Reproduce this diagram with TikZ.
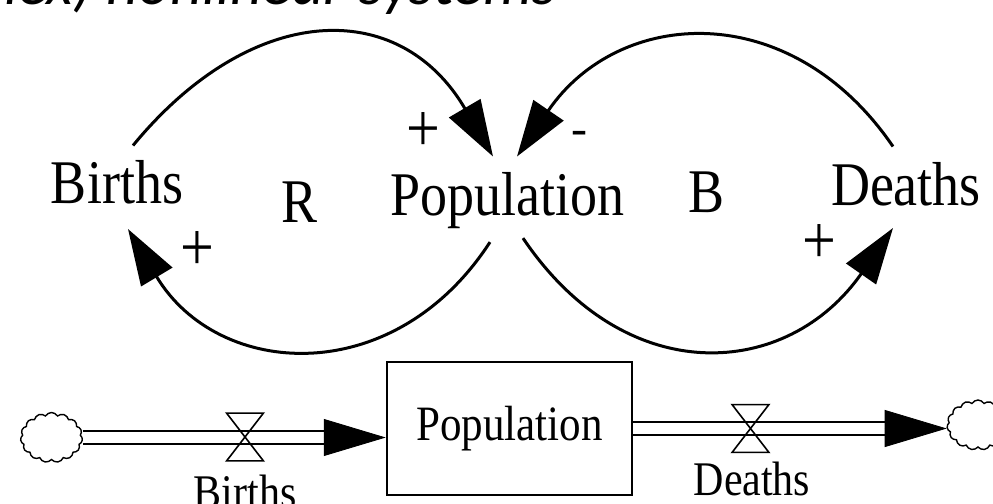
\documentclass[tikz,border=0pt]{standalone}
\usepackage{graphicx}
\usepackage{fontspec}
\setmainfont{Liberation Serif}
\newfontfamily\titlefont{Carlito}
\usetikzlibrary{arrows.meta,shapes.symbols}
\newcommand\vstretch[1]{\scalebox{1}[1.15]{#1}}
\begin{document}
\begin{tikzpicture}[x=0.5pt,y=-0.5pt,
  lbl/.style={anchor=base, inner sep=0pt, font=\fontsize{27pt}{27pt}\selectfont},
  lblsmall/.style={anchor=base, inner sep=0pt, font=\fontsize{21pt}{21pt}\selectfont},
  sgn/.style={anchor=center, inner sep=0pt, font=\fontsize{30pt}{30pt}\selectfont},
  minus/.style={anchor=center, inner sep=0pt, font=\fontsize{24pt}{24pt}\selectfont},
  link/.style={line width=1.5pt, -{Triangle[length=28pt,width=18pt]}},
  pipe/.style={line width=1.25pt, double distance=5.25pt},
  flowhead/.style={line width=0.4pt, -{Triangle[length=31pt,width=18.5pt]}},
  stockbox/.style={draw, line width=1.25pt, minimum width=122.5pt, minimum height=66.5pt, inner sep=0pt, font=\fontsize{21.5pt}{21.5pt}\selectfont},
  cloudy/.style={cloud, draw, line width=0.7pt, cloud puffs=15, cloud puff arc=120, cloud ignores aspect, minimum width=31pt, minimum height=25pt, inner sep=0pt},
  valvebox/.style={inner sep=0pt, minimum width=18pt, minimum height=23.5pt},
  valveline/.style={line width=0.8pt, line join=miter}
]
\useasboundingbox (0,0) rectangle (993,504);

% title (cut off at the top)
\node[anchor=base west, inner sep=0pt, font=\titlefont\itshape\fontsize{31pt}{31pt}\selectfont] (title) at (4,4) {lex) nonlinear systems};

% causal loop diagram
\node[lbl] (births) at (117,203) {\vstretch{Births}};
\node[lbl] (pop) at (507.5,215) {\vstretch{Population}};
\node[lbl] (deaths) at (906,205) {\vstretch{Deaths}};
\node[lbl] (R) at (300,222) {\vstretch{R}};
\node[lbl] (B) at (707,212) {\vstretch{B}};

\node[sgn] (s1) at (423,132) {\vstretch{+}};
\node[sgn] (s2) at (197,251) {\vstretch{+}};
\node[minus] (s3) at (579,138) {-};
\node[sgn] (s4) at (819,244) {\vstretch{+}};

\draw[link] ([xshift=8pt,yshift=7pt]births.north) .. controls (251,2) and (399,-4) .. ([xshift=-7.25pt,yshift=7.5pt]pop.north);
\draw[link] ([xshift=-8.75pt,yshift=-6.75pt]pop.south) .. controls (394,390) and (218,379) .. ([xshift=5.5pt,yshift=-12.5pt]births.south);
\draw[link] ([xshift=-6.5pt,yshift=7.5pt]deaths.north) .. controls (791,-3) and (619,7) .. ([xshift=4.75pt,yshift=7.5pt]pop.north);
\draw[link] ([xshift=7.75pt,yshift=-4.75pt]pop.south) .. controls (626,391) and (788,379) .. ([xshift=-6.5pt,yshift=-11pt]deaths.south);

% stock and flow diagram
\node[cloudy] (cl) at (51.5,437.5) {};
\node[cloudy] (cr) at (978,425) {};
\node[stockbox] (stock) at (509.5,428.5) {\vstretch{Population}};
\coordinate (ltip) at (stock.west |- 0,437.5);
\coordinate (rtip) at (cr.west |- 0,428.5);
\draw[pipe] (cl.east |- ltip) -- ([xshift=-29.5pt]ltip);
\draw[flowhead] ([xshift=-31pt]ltip) -- (ltip);
\draw[pipe] (stock.east |- rtip) -- ([xshift=-29.5pt]rtip);
\draw[flowhead] ([xshift=-31pt]rtip) -- (rtip);

\node[valvebox] (vl) at (245,437) {};
\node[valvebox] (vr) at (750.5,428.5) {};
\draw[valveline] (vl.north west) -- (vl.north east) -- (vl.south west) -- (vl.south east) -- cycle;
\draw[valveline] (vr.north west) -- (vr.north east) -- (vr.south west) -- (vr.south east) -- cycle;

\node[lblsmall] (flb) at (245,508) {\vstretch{Births}};
\node[lblsmall] (fld) at (752,495) {\vstretch{Deaths}};
\end{tikzpicture}
\end{document}
